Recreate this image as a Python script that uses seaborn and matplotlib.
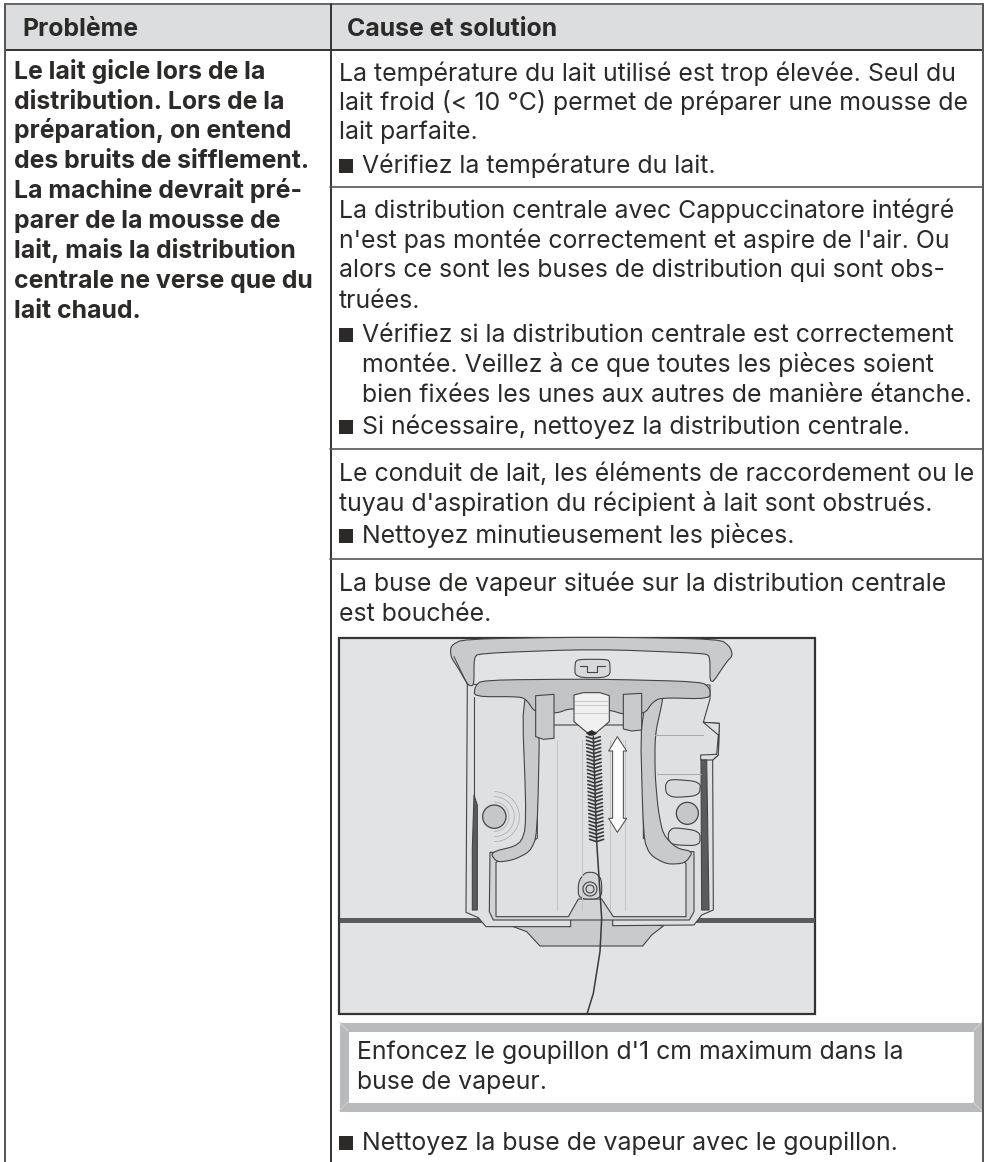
import numpy as np
import matplotlib
matplotlib.use('Agg')
import matplotlib.pyplot as plt
from matplotlib.patches import Polygon, Circle, Rectangle
import seaborn as sns

sns.set_theme(style="white")
plt.rcParams['font.family'] = ['Inter', 'DejaVu Sans']

# Textes du tableau
header_left = 'Problème'
header_right = 'Cause et solution'
problem_lines = [
    'Le lait gicle lors de la',
    'distribution. Lors de la',
    'préparation, on entend',
    'des bruits de sifflement.',
    'La machine devrait pré-',
    'parer de la mousse de',
    'lait, mais la distribution',
    'centrale ne verse que du',
    'lait chaud.',
]
problem_y = [79, 109, 138, 168, 198, 228, 258, 288, 318]
cause_lines = [
    'La température du lait utilisé est trop élevée. Seul du',
    'lait froid (< 10 °C) permet de préparer une mousse de',
    'lait parfaite.',
    'La distribution centrale avec Cappuccinatore intégré',
    "n'est pas montée correctement et aspire de l'air. Ou",
    'alors ce sont les buses de distribution qui sont obs-',
    'truées.',
    "Le conduit de lait, les éléments de raccordement ou le",
    "tuyau d'aspiration du récipient à lait sont obstrués.",
    'La buse de vapeur située sur la distribution centrale',
    'est bouchée.',
]
cause_y = [81, 110, 139, 218, 248, 277, 308, 481, 511, 591, 621]
bullet_lines = [
    'Vérifiez la température du lait.',
    'Vérifiez si la distribution centrale est correctement',
    'Si nécessaire, nettoyez la distribution centrale.',
    'Nettoyez minutieusement les pièces.',
    'Nettoyez la buse de vapeur avec le goupillon.',
]
bullet_y = [173, 342, 434, 543, 1150]
cont_lines = [
    'montée. Veillez à ce que toutes les pièces soient',
    'bien fixées les unes aux autres de manière étanche.',
]
cont_y = [372, 402]
note_lines = ["Enfoncez le goupillon d'1 cm maximum dans la", 'buse de vapeur.']
note_y = [1059, 1089]
rule_y = [187, 449, 559]

INK = '#2b2a29'
EDGE = '#444444'
BG = '#e2e3e5'
MID = '#c9cacc'
LIGHT = '#dfe0e2'
DARK = '#5a5b5d'

# Contours de l'illustration (coordonnées de la vignette)
rim = [(415, 182), (385, 130), (362, 95), (362, 62), (400, 42), (790, 36), (1170, 42), (1200, 65),
       (1208, 92), (1190, 110), (1140, 185), (1140, 95), (1125, 85), (790, 72), (445, 85), (432, 100), (432, 182)]
body = [(412, 178), (432, 178), (1140, 180), (1140, 222), (1120, 292), (1168, 295), (1165, 390), (1148, 405),
        (1150, 855), (1115, 870), (1092, 900), (848, 902), (848, 880), (722, 880), (722, 905), (468, 905),
        (445, 878), (408, 862)]
top_band = [(432, 215), (435, 185), (455, 165), (800, 162), (1115, 170), (1140, 190), (1140, 222), (990, 218),
            (965, 235), (945, 265), (880, 268), (840, 255), (720, 250), (680, 265), (615, 262), (590, 225),
            (570, 215)]
knob = [(735, 112), (745, 103), (832, 103), (840, 112), (840, 158), (735, 158)]
knob_slot = [(750, 122), (772, 122), (772, 140), (802, 140), (802, 122), (825, 122)]
left_channel = [(575, 205), (590, 600), (570, 660), (480, 682), (500, 712), (550, 705), (600, 680), (622, 630),
                (630, 240)]
right_channel = [(930, 250), (940, 640), (960, 690), (1010, 718), (1065, 715), (1090, 680), (1040, 670), (1000, 630),
                 (985, 560), (975, 450), (975, 330), (995, 240), (1000, 205)]
left_tab = [(617, 212), (672, 208), (672, 340), (640, 343), (617, 335)]
right_tab = [(880, 208), (935, 205), (935, 315), (905, 318), (880, 312)]
nozzle = [(732, 210), (760, 203), (810, 203), (838, 212), (838, 290), (800, 322), (770, 322), (732, 290)]
arrow = [(862, 335), (890, 378), (880, 378), (880, 580), (890, 580), (862, 622), (836, 580), (848, 580), (848, 378),
         (836, 378)]
tray = [(545, 903), (590, 920), (630, 963), (938, 963), (965, 930), (1000, 903), (848, 880), (722, 880)]
lip = [(480, 682), (478, 860), (490, 885), (1078, 885), (1092, 860), (1092, 680)]
panel = [(498, 712), (498, 875), (715, 875), (745, 822), (815, 822), (850, 875), (1068, 875), (1068, 715), (940, 640),
         (940, 300), (622, 300), (622, 640)]
shield = [(745, 822), (745, 770), (765, 742), (795, 742), (815, 762), (815, 822)]
slot_top = [(1006, 478), (1020, 462), (1112, 470), (1108, 512), (1030, 518), (1008, 505)]
slot_bottom = [(1015, 622), (1030, 607), (1110, 618), (1110, 662), (1030, 660), (1015, 645)]
tab_right = [(1120, 292), (1168, 295), (1165, 390), (1148, 405), (1112, 405), (1112, 390), (1160, 388), (1165, 330)]
strip_left = [(432, 510), (442, 540), (442, 855), (427, 855), (427, 670)]
strip_right = [(1113, 405), (1130, 405), (1137, 855), (1115, 855)]
wire = [(790, 335), (800, 650), (815, 880), (810, 980), (790, 1105), (771, 1167)]
screw = [(1072, 565, 33), (493, 575, 35)]


def pt(path):
    return [(330 + x / 3, 625 + y / 3) for x, y in path]


def soft(path, n=2):
    # arrondit les angles d'un contour fermé
    p = np.array(path, dtype=float)
    for _ in range(n):
        q = np.roll(p, -1, axis=0)
        p = np.column_stack([0.8 * p + 0.2 * q, 0.2 * p + 0.8 * q]).reshape(-1, 2)
    return [tuple(v) for v in p]


fig = plt.figure(figsize=(9.94, 11.62), dpi=100, facecolor='white')
ax = fig.add_axes([0, 0, 1, 1])
ax.set_xlim(0, 994)
ax.set_ylim(1162, 0)
ax.axis('off')

# En-tête et filets
ax.add_patch(Rectangle((5, 4), 978, 46, fc='#dcddde', ec='none', zorder=0))
for xs, ys, col in [((5, 983), (4, 4), '#666666'), ((5, 983), (50, 50), '#333333'), ((5, 5), (4, 1162), '#555555'),
                    ((330.5, 330.5), (4, 1162), '#333333'), ((983, 983), (4, 1162), '#555555')]:
    sns.lineplot(x=list(xs), y=list(ys), ax=ax, color=col, lw=1.4, sort=False, estimator=None)
for y in rule_y:
    sns.lineplot(x=[330, 983], y=[y, y], ax=ax, color='#555555', lw=1.2, sort=False, estimator=None)

FS = 17.9
ax.text(22, 36, header_left, fontsize=FS, fontweight='bold', color=INK)
ax.text(347, 36, header_right, fontsize=FS, fontweight='bold', color=INK)
for line, y in zip(problem_lines, problem_y):
    ax.text(14, y, line, fontsize=FS, fontweight='bold', color=INK)
for line, y in zip(cause_lines, cause_y):
    ax.text(339, y, line, fontsize=FS, color=INK)
for line, y in zip(bullet_lines, bullet_y):
    ax.add_patch(Rectangle((339, y - 14), 14, 14, fc=INK, ec='none'))
    ax.text(362, y, line, fontsize=FS, color=INK)
for line, y in zip(cont_lines, cont_y):
    ax.text(362, y, line, fontsize=FS, color=INK)

# Illustration
ax.add_patch(Rectangle((339, 638), 476, 376, fc=BG, ec='#333333', lw=1.6, zorder=1))
ax.add_patch(Rectangle((339.5, 918), 475, 4.5, fc=DARK, ec='none', zorder=1.5))


def shape(path, fc, lw=0.8, z=2, rounded=True):
    p = soft(path) if rounded else path
    ax.add_patch(Polygon(pt(p), closed=True, fc=fc, ec=EDGE, lw=lw, zorder=z, joinstyle='round'))


def stroke(path, col=EDGE, lw=0.8, z=2.2):
    ax.plot(*zip(*pt(path)), color=col, lw=lw, zorder=z)


shape(tray, MID, rounded=False)
shape(body, LIGHT, rounded=False)
shape(rim, MID)
shape(knob, '#d8d9db')
stroke(knob_slot)
shape(lip, '#d2d3d5', rounded=False)
shape(panel, LIGHT, rounded=False)
shape(left_channel, MID)
shape(right_channel, MID)
shape(top_band, '#c2c3c5')
shape(left_tab, MID, rounded=False)
shape(right_tab, MID, rounded=False)
shape(tab_right, LIGHT, rounded=False)
shape(slot_top, '#d8d9db')
shape(slot_bottom, '#d8d9db')
shape(shield, '#d2d3d5')
shape(strip_left, DARK, z=2.1, rounded=False)
shape(strip_right, DARK, z=2.1, rounded=False)
shape(nozzle, '#f0f0f0', rounded=False)

# Traits fins du corps
stroke([(372, 95), (412, 178)], lw=0.7, z=2.05)
stroke([(432, 215), (432, 510)], lw=0.8)
for zx in [680, 755, 840, 885]:
    stroke([(zx, 345), (zx, 855)], col='#c4c5c7', lw=0.7, z=2.05)
for zy in [228, 240, 265]:
    stroke([(736, zy), (834, zy)], col='#c8c8c8', lw=0.7)
stroke([(975, 330), (1120, 330)], col='#a8a9ab', lw=0.7)
stroke([(980, 448), (1112, 448)], col='#a8a9ab', lw=0.7)

# Vis et cercles concentriques
for zx, zy, zr in screw:
    ax.add_patch(Circle(pt([(zx, zy)])[0], zr / 3, fc='#c6c7c9', ec=EDGE, lw=0.9, zorder=2.3))
for zr in [44, 60, 75]:
    theta = np.radians(np.arange(-90, 91, 5))
    cx, cy = pt([(493, 575)])[0]
    ax.plot(cx + zr / 3 * np.cos(theta), cy + zr / 3 * np.sin(theta), color='#a8a9ab', lw=0.5, zorder=2.2)
for zr in [21, 12]:
    ax.add_patch(Circle(pt([(780, 792)])[0], zr / 3, fc='none', ec=EDGE, lw=0.8, zorder=2.3))

# Goupillon
ax.plot(*zip(*pt(wire)), color='#3a3a3a', lw=1.1, zorder=3)
for zy in np.arange(335, 650, 11):
    zc = 790 + (zy - 335) * 10 / 315
    for side in (-1, 1):
        seg = pt([(zc, zy + 7), (zc + side * 21, zy)])
        ax.plot(*zip(*seg), color='#3a3a3a', lw=1.2, zorder=3)
ax.add_patch(Polygon(pt([(768, 325), (785, 315), (802, 325), (790, 332), (778, 332)]), fc='#2b2b2b', ec='none', zorder=3.1))
shape(arrow, 'white', lw=0.7, z=3, rounded=False)

# Encadré
ax.add_patch(Rectangle((343.5, 1026.5), 634, 80, fc='white', ec='#b9babc', lw=6.5, joinstyle='miter', zorder=1))
for (x0, y0, x1, y1) in [(339, 1022, 348, 1031), (982, 1022, 973, 1031), (339, 1111, 348, 1102), (982, 1111, 973, 1102)]:
    ax.plot([x0, x1], [y0, y1], color='#d4d5d7', lw=0.6, zorder=1.2)
for line, y in zip(note_lines, note_y):
    ax.text(357, y, line, fontsize=FS, color=INK)

fig.savefig('out.png', dpi=100)
